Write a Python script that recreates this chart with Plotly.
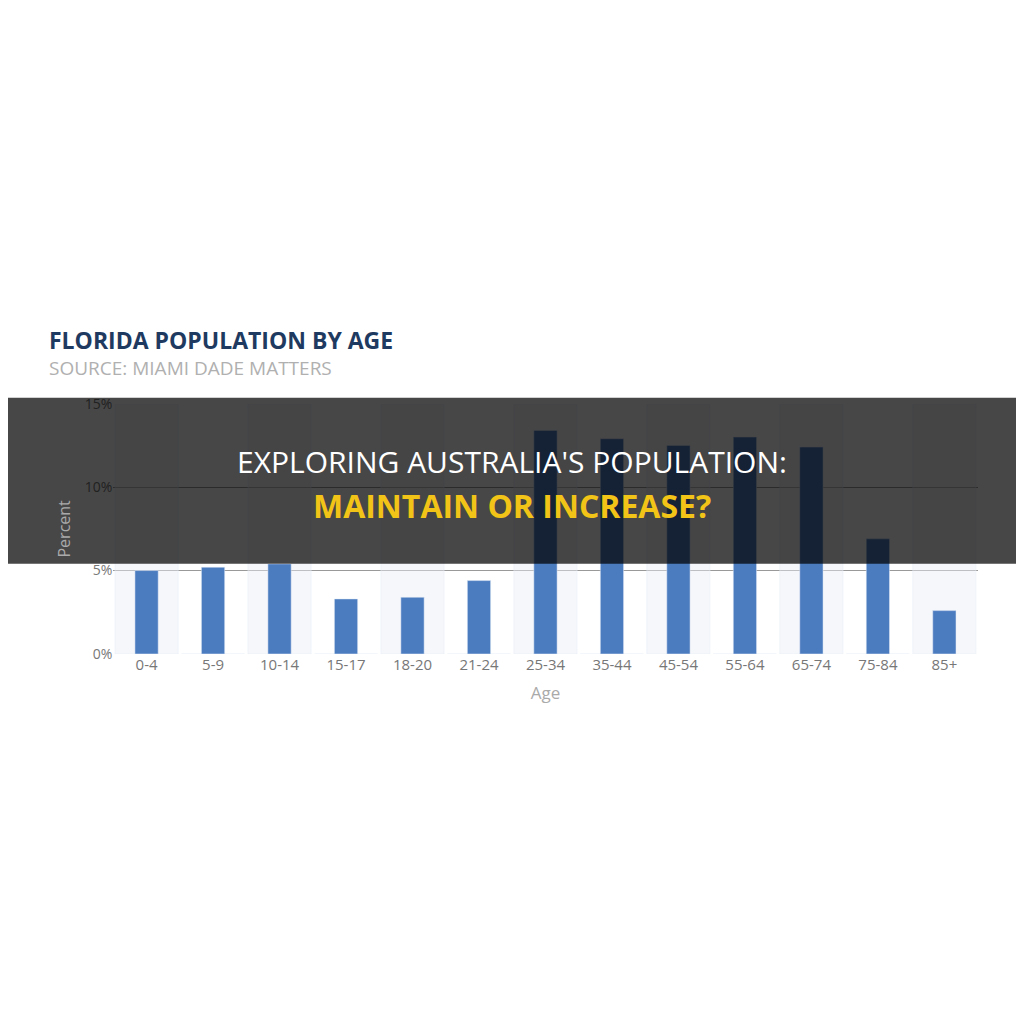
"""Florida population by age, with the banner overlay."""

import plotly.graph_objects as go

ages = ["0-4", "5-9", "10-14", "15-17", "18-20", "21-24", "25-34",
        "35-44", "45-54", "55-64", "65-74", "75-84", "85+"]
percent = [5.0, 5.2, 5.4, 3.3, 3.4, 4.4, 13.4, 12.9, 12.5, 13.0, 12.4, 6.9, 2.6]
band = [15 if i % 2 == 0 else 0 for i in range(len(ages))]

H = 1024


def py(pix):
    return 1 - pix / H


fig = go.Figure()
fig.add_trace(go.Bar(x=ages, y=band, marker_color="rgba(235,238,244,0.45)",
                     width=0.95, hoverinfo="skip"))
fig.add_trace(go.Bar(x=ages, y=percent, marker_color="#4c7cc0", width=0.35))

fig.update_layout(
    autosize=True, showlegend=False, barmode="overlay",
    paper_bgcolor="white", plot_bgcolor="white",
    margin=dict(l=0, r=0, t=0, b=0),
    font=dict(family="Open Sans", color="#888"),
    xaxis=dict(domain=[107 / 1024, 985 / 1024], showgrid=False, tickfont=dict(size=15, color="#777"),
               title=dict(text="Age", font=dict(size=17, color="#aaa"), standoff=14), ticks=""),
    yaxis=dict(domain=[py(648), py(393)], range=[0, 15], tickvals=[0, 5, 10, 15],
               ticktext=["0%", "5%", "10%", "15%"], gridcolor="#999", gridwidth=1,
               tickfont=dict(size=14, color="#777"), zeroline=False,
               title=dict(text="Percent", font=dict(size=16, color="#aaa"), standoff=10)),
)

fig.add_annotation(text="<b>FLORIDA POPULATION BY AGE</b>", x=40 / 1024, y=py(328),
                   xref="paper", yref="paper", xanchor="left", yanchor="middle",
                   showarrow=False, font=dict(size=23, color="#1f3a60", family="Open Sans"))
fig.add_annotation(text="SOURCE: MIAMI DADE MATTERS", x=40 / 1024, y=py(357),
                   xref="paper", yref="paper", xanchor="left", yanchor="middle",
                   showarrow=False, font=dict(size=19, color="#b0b0b0", family="Open Sans"))

# dark banner across the chart
fig.add_shape(type="rect", xref="paper", yref="paper", x0=0, x1=1, y0=py(556), y1=py(387),
              fillcolor="rgba(0,0,0,0.72)", line_width=0, layer="above")
fig.add_annotation(text="EXPLORING AUSTRALIA'S POPULATION:", x=0.5, y=py(452),
                   xref="paper", yref="paper", showarrow=False,
                   font=dict(size=30, color="white", family="Open Sans"))
fig.add_annotation(text="<b>MAINTAIN OR INCREASE?</b>", x=0.5, y=py(497),
                   xref="paper", yref="paper", showarrow=False,
                   font=dict(size=32, color="#f2c417", family="Open Sans"))

fig.write_html("out.html", default_width="100%", default_height="100vh")
